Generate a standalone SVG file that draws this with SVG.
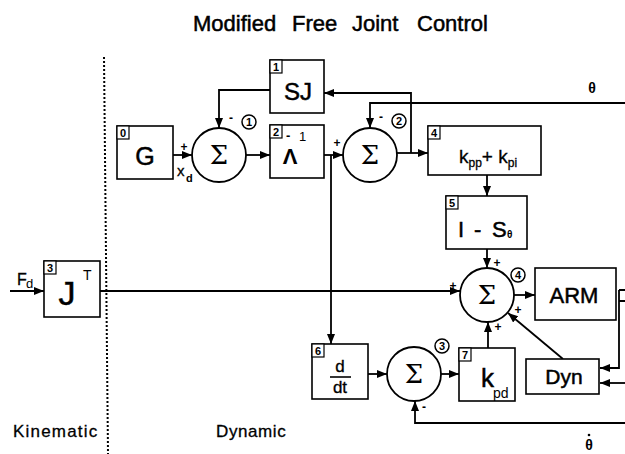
<svg xmlns="http://www.w3.org/2000/svg" width="625" height="454" viewBox="0 0 625 454">
<defs>
<style>
text{font-family:"Liberation Sans",Arial,sans-serif;fill:#000}
.hv{stroke:#000;stroke-width:0.5}
.box{fill:#fff;stroke:#000;stroke-width:1.6}
.idx{fill:#fff;stroke:#000;stroke-width:1.2}
.idxt{font-size:11px;font-weight:bold;text-anchor:middle}
.sum{fill:#fff;stroke:#000;stroke-width:1.8}
.sig{font-family:"DejaVu Serif","Liberation Serif",serif;font-size:26px;text-anchor:middle}
.cn{fill:none;stroke:#000;stroke-width:1.8}
.sg{font-size:12px;font-weight:bold;text-anchor:middle}
.num{fill:#fff;stroke:#000;stroke-width:1.5}
.numt{font-size:11px;font-weight:bold;text-anchor:middle}
</style>
<marker id="ah" markerUnits="userSpaceOnUse" markerWidth="11" markerHeight="9" refX="10" refY="4" orient="auto">
<path d="M0,0 L10,4 L0,8 z" fill="#000"/>
</marker>
</defs>
<rect width="625" height="454" fill="#fff"/>

<text class="hv" font-size="22"><tspan x="193" y="31">Modified</tspan><tspan x="292" y="31">Free</tspan><tspan x="352" y="31">Joint</tspan><tspan x="417" y="31">Control</tspan></text>

<line x1="104" y1="57" x2="108" y2="454" stroke="#000" stroke-width="2" stroke-dasharray="2,2"/>

<text class="hv" x="13" y="437" font-size="17" letter-spacing="1.2" style="stroke-width:0.3">Kinematic</text>
<text class="hv" x="216" y="437" font-size="17" letter-spacing="0.6" style="stroke-width:0.3">Dynamic</text>

<g id="connectors">
<path class="cn" d="M10,291 H44" marker-end="url(#ah)"/>
<path class="cn" d="M100,291 H460" marker-end="url(#ah)"/>
<path class="cn" d="M173,155 H192" marker-end="url(#ah)"/>
<path class="cn" d="M246,155 H270" marker-end="url(#ah)"/>
<path class="cn" d="M270,90 H219 V128" marker-end="url(#ah)"/>
<path class="cn" d="M324,155 H343" marker-end="url(#ah)"/>
<path class="cn" d="M331,155 V344" marker-end="url(#ah)"/>
<path class="cn" d="M397,153 H428" marker-end="url(#ah)"/>
<path class="cn" d="M411,153 V93 H324" marker-end="url(#ah)"/>
<path class="cn" d="M625,103 H370 V128" marker-end="url(#ah)"/>
<path class="cn" d="M487,175 V196" marker-end="url(#ah)"/>
<path class="cn" d="M487,249 V268" marker-end="url(#ah)"/>
<path class="cn" d="M514,295 H535" marker-end="url(#ah)"/>
<path class="cn" d="M619,290 H625 M619,301 H625"/>
<path class="cn" d="M619,290 V368 H600" marker-end="url(#ah)"/>
<path class="cn" d="M625,383 H600" marker-end="url(#ah)"/>
<path class="cn" d="M563,359 L508,313" marker-end="url(#ah)"/>
<path class="cn" d="M488,348 V322" marker-end="url(#ah)"/>
<path class="cn" d="M368,374 H387" marker-end="url(#ah)"/>
<path class="cn" d="M441,374 H459" marker-end="url(#ah)"/>
<path class="cn" d="M625,423 H415 V401" marker-end="url(#ah)"/>
</g>

<g id="signs">
<text class="sg" x="184" y="151">+</text>
<text class="sg" x="231" y="122">-</text>
<text class="sg" x="337" y="147">+</text>
<text class="sg" x="381" y="121">-</text>
<text class="sg" x="497" y="267">+</text>
<text class="sg" x="453" y="290">+</text>
<text class="sg" x="498" y="331">+</text>
<text class="sg" x="518" y="314">+</text>
<text class="sg" x="424" y="411">-</text>
<text class="hv" x="177" y="176" font-size="15" style="stroke-width:0.3">x</text>
<text x="186" y="182" font-size="11" font-weight="bold">d</text>
<text class="hv" x="17" y="285" font-size="16" style="stroke-width:0.3">F</text>
<text x="26" y="288" font-size="13">d</text>
<text x="592" y="93" font-size="14" font-weight="bold" text-anchor="middle">θ</text>
<text x="589" y="450" font-size="14" font-weight="bold" text-anchor="middle">θ</text>
<circle cx="589" cy="435" r="1.3" fill="#000"/>
</g>

<g id="n0">
<rect class="box" x="117" y="126" width="56" height="53"/>
<rect class="idx" x="117" y="126" width="12" height="13"/>
<text class="idxt" x="123" y="137">0</text>
<text class="hv" x="145" y="165" font-size="25" text-anchor="middle">G</text>
</g>

<g id="n1">
<rect class="box" x="270" y="60" width="54" height="53"/>
<rect class="idx" x="270" y="60" width="12" height="13"/>
<text class="idxt" x="276" y="71">1</text>
<text class="hv" x="298" y="100" font-size="24" text-anchor="middle">SJ</text>
</g>

<g id="n2">
<rect class="box" x="270" y="125" width="54" height="53"/>
<rect class="idx" x="270" y="125" width="12" height="13"/>
<text class="idxt" x="276" y="136">2</text>
<text x="290" y="164" font-size="22" text-anchor="middle" font-family="Liberation Serif,serif" font-weight="bold">Λ</text>
<text x="286" y="140" font-size="13" font-weight="bold">-</text>
<text x="299" y="141" font-size="13">1</text>
</g>

<g id="n3">
<rect class="box" x="44" y="261" width="56" height="56"/>
<rect class="idx" x="44" y="261" width="12" height="13"/>
<text class="idxt" x="50" y="272">3</text>
<text class="hv" x="67" y="305" font-size="34" text-anchor="middle">J</text>
<text x="83" y="280" font-size="14">T</text>
</g>

<g id="n4">
<rect class="box" x="428" y="126" width="113" height="49"/>
<rect class="idx" x="428" y="126" width="12" height="13"/>
<text class="idxt" x="434" y="137">4</text>
<text class="hv" x="459" y="163" font-size="19" style="stroke-width:0.3">k<tspan font-size="12" dy="4">pp</tspan><tspan dy="-4" font-size="19">+ k</tspan><tspan font-size="12" dy="4">pi</tspan></text>
</g>

<g id="n5">
<rect class="box" x="446" y="196" width="81" height="53"/>
<rect class="idx" x="446" y="196" width="12" height="13"/>
<text class="idxt" x="452" y="207">5</text>
<text class="hv" x="458" y="237" font-size="22">I</text>
<text class="hv" x="474" y="237" font-size="22">-</text>
<text class="hv" x="492" y="237" font-size="22">S</text>
<text x="507" y="238" font-size="10" font-weight="bold">θ</text>
</g>

<g id="n6">
<rect class="box" x="312" y="344" width="56" height="55"/>
<rect class="idx" x="312" y="344" width="12" height="13"/>
<text class="idxt" x="318" y="355">6</text>
<text class="hv" x="340" y="372" font-size="17" text-anchor="middle" style="stroke-width:0.3">d</text>
<line x1="330" y1="377" x2="351" y2="377" stroke="#000" stroke-width="1.6"/>
<text class="hv" x="340" y="393" font-size="17" text-anchor="middle" style="stroke-width:0.3">dt</text>
</g>

<g id="n7">
<rect class="box" x="459" y="348" width="56" height="53"/>
<rect class="idx" x="459" y="348" width="12" height="13"/>
<text class="idxt" x="465" y="359">7</text>
<text class="hv" x="481" y="387" font-size="26">k</text>
<text x="493" y="398" font-size="14">pd</text>
</g>

<g id="arm">
<rect class="box" x="535" y="268" width="81" height="52"/>
<text class="hv" x="574" y="303" font-size="22" text-anchor="middle">ARM</text>
</g>

<g id="dyn">
<rect class="box" x="526" y="359" width="73" height="35"/>
<text class="hv" x="564" y="384" font-size="21" text-anchor="middle">Dyn</text>
</g>

<g id="sum1">
<circle class="sum" cx="219" cy="155" r="27"/>
<text class="sig" x="219" y="164">Σ</text>
<circle class="num" cx="249" cy="122" r="7"/>
<text class="numt" x="249" y="126">1</text>
</g>

<g id="sum2">
<circle class="sum" cx="370" cy="155" r="27"/>
<text class="sig" x="370" y="164">Σ</text>
<circle class="num" cx="399" cy="121" r="7"/>
<text class="numt" x="399" y="125">2</text>
</g>

<g id="sum3">
<circle class="sum" cx="414" cy="374" r="27"/>
<text class="sig" x="414" y="383">Σ</text>
<circle class="num" cx="442" cy="346" r="7"/>
<text class="numt" x="442" y="350">3</text>
</g>

<g id="sum4">
<circle class="sum" cx="487" cy="295" r="27"/>
<text class="sig" x="487" y="304">Σ</text>
<circle class="num" cx="518" cy="275" r="7"/>
<text class="numt" x="518" y="279">4</text>
</g>
</svg>
